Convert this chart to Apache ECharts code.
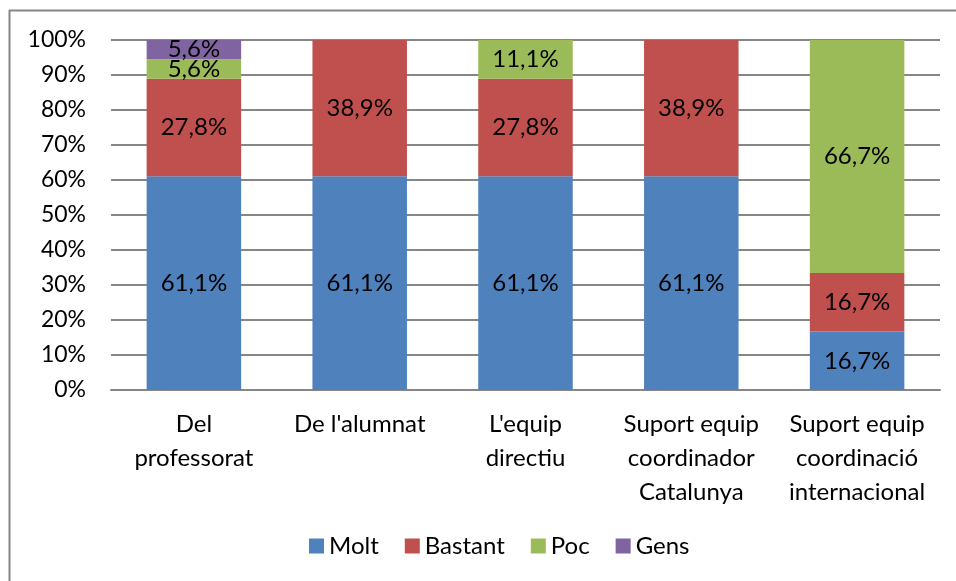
<!DOCTYPE html>
<html>
<head>
<meta charset="utf-8">
<script src="https://cdn.jsdelivr.net/npm/echarts@6/dist/echarts.min.js"></script>
<style>
  html, body { margin: 0; padding: 0; background: #fff; }
  #chart { width: 956px; height: 581px; }
</style>
</head>
<body>
<div id="chart"></div>
<script>
// Categories (x axis) and shares per answer level, in percent
const categories = [
  "Del\nprofessorat",
  "De l'alumnat",
  "L'equip\ndirectiu",
  "Suport equip\ncoordinador\nCatalunya",
  "Suport equip\ncoordinació\ninternacional"
];
const molt    = [61.1, 61.1, 61.1, 61.1, 16.7];
const bastant = [27.8, 38.9, 27.8, 38.9, 16.7];
const poc     = [5.6, null, 11.1, null, 66.7];
const gens    = [5.6, null, null, null, null];
const yTicks  = [0, 10, 20, 30, 40, 50, 60, 70, 80, 90, 100];

const FONT = "Lato, 'Open Sans', sans-serif";
const fmtPct = v => v.toFixed(1).replace('.', ',') + '%';

function barSeries(name, data, color) {
  return {
    name: name,
    type: 'bar',
    stack: 'total',
    barWidth: '57%',
    data: data,
    itemStyle: { color: color },
    label: {
      show: true,
      position: 'inside',
      color: '#000',
      fontFamily: FONT,
      fontSize: 24,
      formatter: p => (p.value == null ? '' : fmtPct(p.value))
    }
  };
}

const chart = echarts.init(document.getElementById('chart'));
chart.setOption({
  animation: false,
  backgroundColor: '#fff',
  grid: { left: 111, right: 16, top: 40, bottom: 191, containLabel: false },
  legend: {
    bottom: 18,
    left: 304,
    itemWidth: 15,
    itemHeight: 15,
    itemGap: 26,
    icon: 'rect',
    textStyle: { fontFamily: FONT, fontSize: 24, color: '#000' },
    data: ['Molt', 'Bastant', 'Poc', 'Gens']
  },
  xAxis: {
    type: 'category',
    data: categories,
    axisLine: { show: true, lineStyle: { color: '#868686', width: 2 } },
    axisTick: { show: false },
    axisLabel: {
      color: '#000',
      fontFamily: FONT,
      fontSize: 24,
      lineHeight: 34,
      margin: 17,
      interval: 0
    }
  },
  yAxis: {
    type: 'value',
    min: 0,
    max: 100,
    interval: 10,
    axisLine: { show: false },
    axisTick: { show: false },
    splitLine: { show: true, lineStyle: { color: '#868686', width: 2 } },
    axisLabel: {
      color: '#000',
      fontFamily: FONT,
      fontSize: 23,
      margin: 25,
      formatter: v => (yTicks.indexOf(v) >= 0 ? v + '%' : '')
    }
  },
  series: [
    barSeries('Molt', molt, '#4f81bd'),
    barSeries('Bastant', bastant, '#c0504d'),
    barSeries('Poc', poc, '#9bbb59'),
    barSeries('Gens', gens, '#8064a2')
  ],
  graphic: [
    // outer chart frame (left and top edges)
    { type: 'line', shape: { x1: 9.5, y1: 10, x2: 9.5, y2: 581 }, style: { stroke: '#868686', lineWidth: 2 } },
    { type: 'line', shape: { x1: 9, y1: 10.5, x2: 956, y2: 10.5 }, style: { stroke: '#868686', lineWidth: 2 } }
  ]
});
</script>
</body>
</html>
